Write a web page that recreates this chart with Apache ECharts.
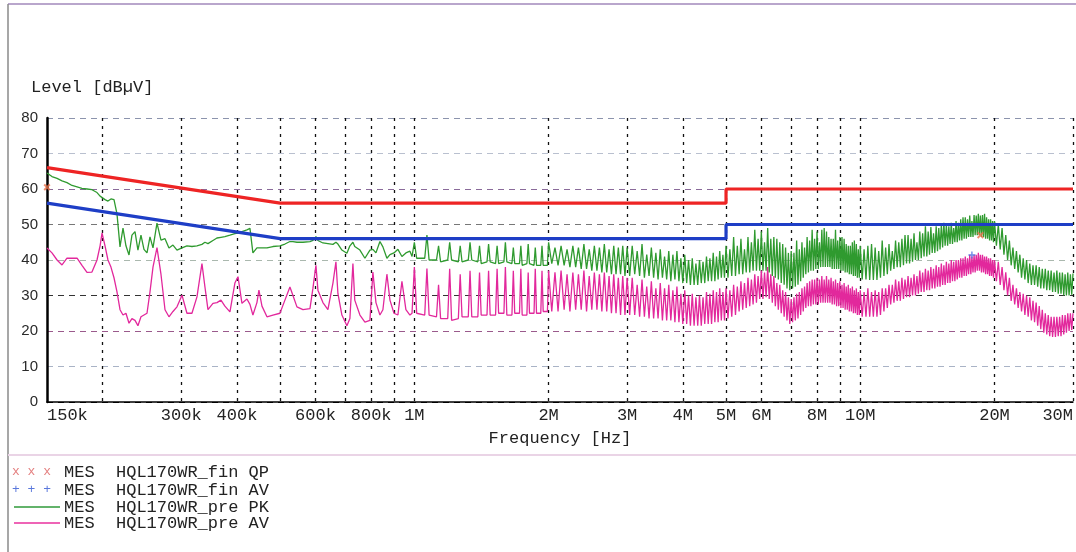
<!DOCTYPE html>
<html><head><meta charset="utf-8">
<script src="https://cdn.jsdelivr.net/npm/echarts@6/dist/echarts.min.js"></script>
<style>html,body{margin:0;padding:0;background:#fff}#c{width:1076px;height:552px}</style>
</head><body><div id="c"></div>
<script>
// ---------- data ----------
const yTicks = [0, 10, 20, 30, 40, 50, 60, 70, 80];
const xGridFreqMHz = [0.2,0.3,0.4,0.5,0.6,0.7,0.8,0.9,1,2,3,4,5,6,7,8,9,10,20,30];
const xLabelFreqMHz = [0.15,0.3,0.4,0.6,0.8,1,2,3,4,5,6,8,10,20,30];
const xLabelText = ['150k','300k','400k','600k','800k','1M','2M','3M','4M','5M','6M','8M','10M','20M','30M'];

const limitQPFreqMHz = [0.15, 0.5, 5, 5, 30];
const limitQPLevel = [66, 56, 56, 60, 60];
const limitAVFreqMHz = [0.15, 0.5, 5, 5, 30];
const limitAVLevel = [56, 46, 46, 50, 50];

const finQPFreqMHz = [0.15, 18.6];
const finQPLevel = [60.5, 47];
const finAVFreqMHz = [17.8];
const finAVLevel = [41.4];

const freqMHz = [
0.150,0.1539,0.158,0.1621,0.1663,0.1707,0.1752,0.1797,0.1844,0.1892,
0.1942,0.1973,0.1993,0.2024,0.2055,0.2087,0.212,0.2153,0.2187,0.2221,
0.2255,0.2291,0.2326,0.2363,0.2399,0.2437,0.2475,0.2514,0.2553,0.2593,
0.2647,0.2702,0.2759,0.2816,0.2875,0.2935,0.3012,0.309,0.3171,0.3254,
0.3339,0.3391,0.3444,0.3534,0.3608,0.3683,0.3759,0.3858,0.3958,0.4022,
0.4105,0.4212,0.4278,0.4344,0.4435,0.4481,0.4552,0.4671,0.4817,0.4994,
0.5125,0.5259,0.5342,0.5453,0.5625,0.5832,0.5922,0.6015,0.6077,0.6236,
0.6399,0.6567,0.6669,0.6739,0.6878,0.7058,0.7169,0.7281,0.735,0.7549,
0.7746,0.7949,0.8072,0.82,0.837,0.85,0.8678,0.8815,0.9,0.9185,
0.9378,0.9572,0.9773,
0.988,1.000,1.012, 1.055,1.067,1.079, 1.121,1.133,1.145, 1.188,1.200,1.212,
1.255,1.267,1.279, 1.321,1.333,1.345, 1.388,1.400,1.412, 1.455,1.467,1.479,
1.521,1.533,1.545, 1.588,1.600,1.612, 1.655,1.667,1.679, 1.721,1.733,1.745,
1.788,1.800,1.812, 1.855,1.867,1.879, 1.921,1.933,1.945, 1.988,
2.000,2.033,2.067,2.100,2.133,2.167,2.200,2.233,2.267,2.300,
2.333,2.367,2.400,2.433,2.467,2.500,2.533,2.567,2.600,2.633,
2.667,2.700,2.733,2.767,2.800,2.833,2.867,2.900,2.933,2.967,
3.000,
3.04,3.08,3.12,3.16,3.2,3.24,3.28,3.32,3.36,3.4,
3.44,3.48,3.52,3.56,3.6,3.64,3.68,3.72,3.76,3.8,
3.84,3.88,3.92,3.96,4,4.04,4.08,4.12,4.16,4.2,
4.24,4.28,4.32,4.36,4.4,4.44,4.48,4.52,4.56,4.6,
4.64,4.68,4.72,4.76,4.8,4.84,4.88,4.92,4.96,5,
5.05,5.1,5.15,5.2,5.25,5.3,5.35,5.4,5.45,5.5,5.55,5.6,5.65,5.7,5.75,5.8,5.85,5.9,5.95,6,
6.05,6.1,6.15,6.2,6.25,6.3,6.35,6.4,6.45,6.5,6.55,6.6,6.65,6.7,6.75,6.8,6.85,6.9,6.95,7,
7.05,7.1,7.15,7.2,7.25,7.3,7.35,7.4,7.45,7.5,7.55,7.6,7.65,7.7,7.75,7.8,7.85,7.9,7.95,8,
8.05,8.1,8.15,8.2,8.25,8.3,8.35,8.4,8.45,8.5,8.55,8.6,8.65,8.7,8.75,8.8,8.85,8.9,8.95,9,
9.05,9.1,9.15,9.2,9.25,9.3,9.35,9.4,9.45,9.5,9.55,9.6,9.65,9.7,9.75,9.8,9.85,9.9,9.95,10,
10.1,10.2,10.3,10.4,10.5,10.6,10.7,10.8,10.9,11,11.1,11.2,11.3,11.4,11.5,11.6,11.7,11.8,11.9,12,
12.1,12.2,12.3,12.4,12.5,12.6,12.7,12.8,12.9,13,13.1,13.2,13.3,13.4,13.5,13.6,13.7,13.8,13.9,14,
14.1,14.2,14.3,14.4,14.5,14.6,14.7,14.8,14.9,15,15.1,15.2,15.3,15.4,15.5,15.6,15.7,15.8,15.9,16,
16.1,16.2,16.3,16.4,16.5,16.6,16.7,16.8,16.9,17,17.1,17.2,17.3,17.4,17.5,17.6,17.7,17.8,17.9,18,
18.1,18.2,18.3,18.4,18.5,18.6,18.7,18.8,18.9,19,19.1,19.2,19.3,19.4,19.5,19.6,19.7,19.8,19.9,20,
20.2,20.4,20.6,20.8,21,21.2,21.4,21.6,21.8,22,22.2,22.4,22.6,22.8,23,23.2,23.4,23.6,23.8,24,
24.2,24.4,24.6,24.8,25,25.2,25.4,25.6,25.8,26,26.2,26.4,26.6,26.8,27,27.2,27.4,27.6,27.8,28,
28.2,28.4,28.6,28.8,29,29.2,29.4,29.6,29.8,30
];

const pkLevel = [
64.5,63.5,63,62.3,61.8,61,60.6,60.2,60,59.8,
59,58,57.5,57,56.6,57.2,57,53,43.7,49,
44,41.4,47,48,42.8,47,43,42,46.5,43.4,
50.4,45.6,46,43.4,44.2,42.8,43.4,44,43.8,44,
44.4,45,44.6,45.5,46.2,46.4,46.6,47,47.4,47.6,
48,48.5,48.9,42,43.4,43.2,43.4,43.4,43.8,44,
44.5,45.2,45.2,45,45,45.2,45.5,46.6,45.5,44.8,
44.6,44.4,45,44.5,42.8,41.9,44,45,43.8,42.8,
40.5,42.8,43,42,45.2,43.7,40.5,41.5,42,43,
41,42,42.5,
41,45,40.5, 40.5,47,40, 40,44,39.5, 40,45,40,
39.5,44,39.5, 40,45,40, 39.5,44,39, 39.5,44.5,39.5,
39,44,39, 39.5,45,39.5, 39,43.5,39, 39,44,38.5,
39,44.5,39, 38.5,43.5,38.5, 38.5,44,38.5, 38.5,
45,39,43.5,38.5,44,38.5,43,38,44,38,
43.5,37.5,44.5,37.5,43,37,44,37,43.5,36.5,
44.5,36.5,43,36,44,36,43.5,36,44,35.5,
43.5,
35.5,44,36,42.5,35.5,44.5,35,41.5,35.5,43.5,
35,42,34.5,43,35,41,34.5,42.5,34,41.5,
34.5,42.5,34,40.5,33.5,41.5,33.5,40,33,40.5,
33,39,33,40,33.5,39.5,33.5,41,34,40.5,
34,42,34,41,34.5,42.5,35,41.5,35,44,
35,43,35.5,46.5,35.5,44,36,46,36,43,36.5,46.5,36.5,45,37,48.5,37,46,37,48,
37,45,37,49,36.5,46,35.5,46.5,35,46,34.5,45,33.5,44.5,33,43.5,32,42,31.5,42.5,
32,42,32.5,45.5,33,43,34,45,35,43.5,36,46.5,36.5,45.5,37,48.5,37,46,37.5,48,
37.5,45,38,48.5,38,49,38,48,38,46.5,38,46,37.5,46,37.5,48.5,37.5,45.5,37.5,46.5,
37,46.5,37,46,36.5,44.5,36.5,44,36,44,36,45,35.5,45.5,35.5,44.5,35,43,35,44,
34.5,43,34.5,44,34.4,44.5,34.4,43.5,34.4,42.5,35,45.5,35.5,43.5,36,44.5,37,42.5,37.5,45.5,
38,45,38,46,38.5,47,39,47,39,46,39.5,47.5,40,45,40,48,40.5,47.5,41,49.5,
41,48,41.5,49.3,42,47.5,42,49.5,42.5,49,43,50,43.5,50.5,44,50,44,49.5,44.5,50.5,
44.5,49,45,51,45,50.5,45.5,51.5,45.5,52,46,52,46,51.5,46.5,52.5,46.5,51,46.5,52.7,
47,52.5,47,53,47,52.5,46.5,52.7,46.5,53,46,52,46,51.5,45.5,51.5,45.5,51,45,51,
44,50,43,49,41.5,47,40,45.5,38.5,43.5,37.5,42.5,36.5,41.5,35,40.5,34.5,40,33.5,39,
33,38.5,33,38.5,32.5,38,32,37.5,32,37.5,31.5,37,31.5,37,31,36.5,31,37,30.5,36.5,
30.5,36.5,30,36,30,36.5,30,36,30.2,36.2
];

const avLevel = [
43.4,42,40,38.6,40.5,40.5,40.5,38.5,36.5,36.6,
40,44,47.6,44,40,38,35,31,26,24.5,
25,22.2,23.5,23,21.5,24,24.5,25,31,38,
43.5,36,26,24,25.5,26.8,30.1,25,25,29.6,
39,32.4,26,27.8,28,28.7,27,25.4,33.5,35.3,
27.8,29,27.5,24.5,28,31.5,27,24,24.5,25,
28.7,32.4,30,26.8,26,26.3,32,38.5,31.5,28,
26,33.5,39.5,30.5,24.5,21.5,23.5,39,28.7,24.5,
22.5,23,36.6,28,24.5,26,36,28.7,25,24.5,
34,26,24.5,
25,38,25, 24.5,37.6,24.5, 24,33,23.5, 23.5,37.5,23,
23.5,36,24, 24,37,24, 24,36.5,24.5, 24.5,37,24.5,
24.5,37.5,25, 25,38,24.5, 24.5,37,25, 25,37.5,24.5,
24.5,36.5,25, 25,37.5,25, 25,37,25.5, 25.5,
37,25.5,36.5,25.5,37,26,36,25.5,36.5,26,
36,26,37,25.5,35.5,26,36.5,26,36,25.5,
36.5,25.5,35.5,25,36,25,35,24.5,35.5,24.5,
35,
24.5,35,24.5,33,24,34.5,24,32.5,23.5,34,
23.5,32,23.5,33.5,23,32,23,33,23,31.5,
22.5,32.5,22.5,30.5,22,31.5,22,30,21.5,30.5,
21.5,29.5,21.5,30,21.5,29.5,22,31,22,30.5,
22,31.5,22.5,31,22.5,32,23,31,23,32,
23.5,31.5,24,33,24.5,32.5,25.5,34,26,33.5,26.5,35,27,34.5,27.5,36,28,35.5,29,37,
29,36.5,29.5,38,29,36,28,35.5,27,33.5,26,33,25,31.5,24,31,23,29.5,22,29,
22.5,29.5,23,30.5,23.5,31,24.5,32,25.5,32.5,26.5,33.5,27,34,27,34.5,27.5,34.5,27.5,35,
27.5,34.5,28,35.5,28,34.5,28,35.5,28,34.5,28,35,27.5,34,27.5,34.5,27,33.5,27,34,
26.5,33,26.5,33.5,26,32.5,26,33,25.5,32,25.5,32.5,25,31.5,25,32,24.5,31,24.5,31.5,
24,31,24,32,24,31,24,31.5,24,31,24.5,32,25.5,32,26.5,33,27.5,33,28,34.5,
28.5,34,28.5,35,29,34.5,29.5,35.5,29.5,35,30,36,30,35.5,30.5,37,31,36.5,31,37.5,
31.5,37,31.5,38,32,37.5,32,38.5,32.5,38,32.5,39,33,38.5,33,39.5,33.5,39,33.5,40,
34,39.5,34,40,34.5,40,35,40.5,35,40.5,35.5,41,35.5,40.5,36,41.5,36,41,36.5,41.5,
36.5,41.5,37,42,37,41.5,36.5,41.5,36.5,41,36,41,36,40.5,35.5,40.5,35.5,40,35,40,
34,39.5,33,38,31.5,36.5,30,35,28.5,33,27.5,32,26.5,31,25.5,30.5,24.5,30,24,29.5,
23,28.5,22.5,28,21.5,27,20.5,26,19.5,25,19,24.5,18.5,24,18.3,24,18.3,24,18.5,24,
18.5,24.5,19,24.5,19.5,25,20,25,20.3,25
];

const legendNames = ['HQL170WR_fin QP', 'HQL170WR_fin AV', 'HQL170WR_pre PK', 'HQL170WR_pre AV'];

// ---------- build ----------
const lg = Math.log10;
const toXY = (fs, ls) => fs.map((f, i) => [lg(f), ls[i]]);
const labelLogs = xLabelFreqMHz.map(lg);
const gridLogs = xGridFreqMHz.map(lg);
const MONO = '"Liberation Mono", "DejaVu Sans Mono", monospace';

const chart = echarts.init(document.getElementById('c'), null, { renderer: 'canvas' });

const legendRows = [472, 490, 507, 523];
const graphics = [
  { type: 'line', shape: { x1: 8, y1: 4, x2: 1076, y2: 4 }, style: { stroke: '#b9a6cc', lineWidth: 2 }, silent: true },
  { type: 'line', shape: { x1: 8, y1: 4, x2: 8, y2: 552 }, style: { stroke: '#8a8a8a', lineWidth: 1.5 }, silent: true },
  { type: 'line', shape: { x1: 8, y1: 455, x2: 1076, y2: 455 }, style: { stroke: '#ead4e6', lineWidth: 2 }, silent: true },
  { type: 'text', x: 31, y: 87, style: { text: 'Level [dBµV]', font: '17px ' + MONO, fill: '#222', verticalAlign: 'middle' } },
  { type: 'text', x: 12, y: legendRows[0], style: { text: 'x x x', font: '13px ' + MONO, fill: '#e48080', verticalAlign: 'middle' } },
  { type: 'text', x: 12, y: legendRows[1], style: { text: '+ + +', font: '13px ' + MONO, fill: '#5a78dc', verticalAlign: 'middle' } },
  { type: 'line', shape: { x1: 14, y1: legendRows[2], x2: 60, y2: legendRows[2] }, style: { stroke: '#2f9a3a', lineWidth: 1.5 } },
  { type: 'line', shape: { x1: 14, y1: legendRows[3], x2: 60, y2: legendRows[3] }, style: { stroke: '#e8309e', lineWidth: 1.5 } }
];
legendRows.forEach((y, i) => {
  graphics.push({ type: 'text', x: 64, y: y, style: { text: 'MES', font: '17px ' + MONO, fill: '#222', verticalAlign: 'middle' } });
  graphics.push({ type: 'text', x: 116, y: y, style: { text: legendNames[i], font: '17px ' + MONO, fill: '#222', verticalAlign: 'middle' } });
});

const crossPath = 'path://M2,0L5,3L8,0L10,2L7,5L10,8L8,10L5,7L2,10L0,8L3,5L0,2Z';
const plusPath = 'path://M4,0H6V4H10V6H6V10H4V6H0V4H4Z';

chart.setOption({
  backgroundColor: '#ffffff',
  animation: false,
  graphic: graphics,
  grid: { left: 47, right: 3, top: 118, bottom: 150 },
  xAxis: {
    type: 'value',
    min: lg(0.15), max: lg(30),
    name: 'Frequency [Hz]',
    nameLocation: 'middle',
    nameGap: 28,
    nameTextStyle: { fontFamily: MONO, fontSize: 17, color: '#222' },
    axisLine: { show: true, onZero: false, lineStyle: { color: '#000', width: 1.5 } },
    axisTick: { show: false, customValues: gridLogs },
    axisLabel: {
      customValues: labelLogs,
      fontFamily: MONO, fontSize: 17, color: '#222', margin: 5,
      alignMinLabel: 'left', alignMaxLabel: 'right',
      formatter: function (v) {
        for (let i = 0; i < labelLogs.length; i++) if (Math.abs(labelLogs[i] - v) < 1e-6) return xLabelText[i];
        return '';
      }
    },
    splitLine: { show: true, lineStyle: { color: '#111', width: 1.3, type: [3, 5] } }
  },
  yAxis: {
    type: 'value', min: 0, max: 80, interval: 10,
    axisLine: { show: true, onZero: false, lineStyle: { color: '#000', width: 2.5 } },
    axisTick: { show: false },
    axisLabel: { fontFamily: '"Liberation Sans", Arial, sans-serif', fontSize: 15, color: '#2a2a2a', margin: 9 },
    splitLine: { show: true, lineStyle: { color: ['#000', '#a9b3c6', '#9a5a8c', '#333', '#aab8ae', '#777', '#8a6a9a', '#b9c0cf', '#8c94ad'], width: 1.2, type: [6, 5] } }
  },
  series: [
    { name: 'MES HQL170WR_pre AV', type: 'line', data: toXY(freqMHz, avLevel), showSymbol: false, symbol: 'none',
      lineStyle: { color: '#e2289c', width: 1.3 }, z: 3 },
    { name: 'MES HQL170WR_pre PK', type: 'line', data: toXY(freqMHz, pkLevel), showSymbol: false, symbol: 'none',
      lineStyle: { color: '#2f9a2f', width: 1.3 }, z: 4 },
    { name: 'QP limit', type: 'line', data: toXY(limitQPFreqMHz, limitQPLevel), showSymbol: false, symbol: 'none',
      lineStyle: { color: '#ee2424', width: 3.2 }, z: 5 },
    { name: 'AV limit', type: 'line', data: toXY(limitAVFreqMHz, limitAVLevel), showSymbol: false, symbol: 'none',
      lineStyle: { color: '#1e3ec6', width: 3.2 }, z: 5 },
    { name: 'MES HQL170WR_fin QP', type: 'scatter', data: toXY(finQPFreqMHz, finQPLevel), symbol: crossPath, symbolSize: 7,
      itemStyle: { color: '#e8704a' }, z: 6 },
    { name: 'MES HQL170WR_fin AV', type: 'scatter', data: toXY(finAVFreqMHz, finAVLevel), symbol: plusPath, symbolSize: 7,
      itemStyle: { color: '#4a6ae0' }, z: 6 }
  ]
});
</script>
</body></html>
